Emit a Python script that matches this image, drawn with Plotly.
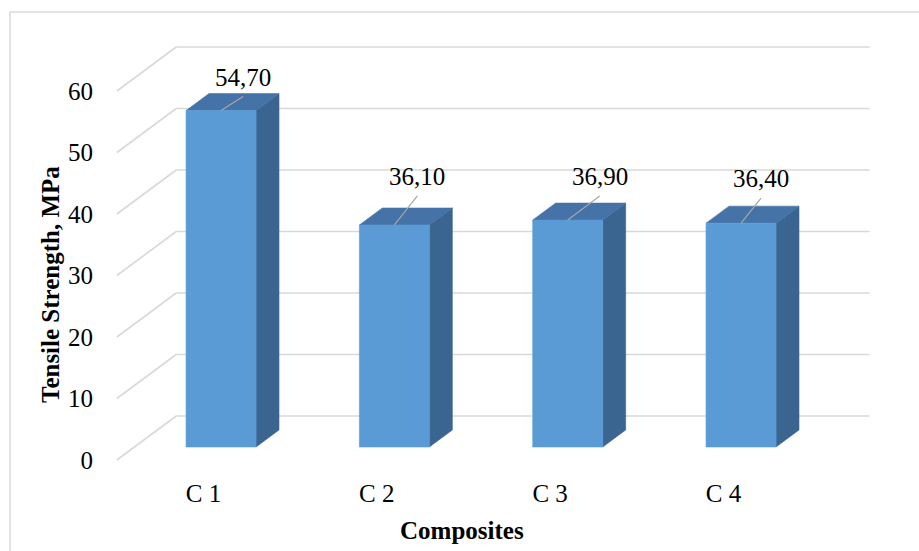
import plotly.graph_objects as go

# ---------------- data ----------------
categories = ["C 1", "C 2", "C 3", "C 4"]
values = [54.70, 36.10, 36.90, 36.40]
y_ticks = [0, 10, 20, 30, 40, 50, 60]

# ---------------- geometry / style ----------------
W, H = 919, 551
PX_CAT = 173.33          # px per category step
PX_VAL = 6.15            # px per value unit
SLANT = 1.35             # x px per depth px (oblique projection)
Z_BAR_FRONT, Z_BAR_BACK, Z_WALL = 13, 30, 44
BAR_HALF = 35 / PX_CAT
L, R, T, B = 100, 900, 20, 470
X0_PX, Y0_PX = 203.5, 460  # pixel of category 0 / value 0 on the front plane

FRONT = "#5B9BD5"
TOP = "#4573A7"
SIDE = "#3A6590"
GRID = "#D9D9D9"
FONT = "Liberation Serif"

# leader-line end offsets (px) from bar top-front centre
label_offsets = [(22, -14), (23, -29), (32, -24), (20, -25)]


def proj(x, v, z):
    """oblique projection of (category x, value v, depth z px) into front-plane axis units"""
    return x + z * SLANT / PX_CAT, v + z / PX_VAL


def poly(pts):
    xs, ys = [], []
    for p in pts:
        px, py = proj(*p)
        xs.append(px)
        ys.append(py)
    xs.append(xs[0])
    ys.append(ys[0])
    return xs, ys


fig = go.Figure()

# gridlines on back wall + side wall
gx, gy = [], []
n = len(categories)
for v in y_ticks:
    for a, b in [((-0.5, v, Z_WALL), (n - 0.5, v, Z_WALL)), ((-0.5, v, Z_WALL), (-0.5, v, 0))]:
        p1, p2 = proj(*a), proj(*b)
        gx += [p1[0], p2[0], None]
        gy += [p1[1], p2[1], None]
fig.add_trace(go.Scatter(x=gx, y=gy, mode="lines", line=dict(color=GRID, width=1.6),
                         hoverinfo="skip", showlegend=False))

# bars
for i, val in enumerate(values):
    xl, xr = i - BAR_HALF, i + BAR_HALF
    side = poly([(xr, 0, Z_BAR_FRONT), (xr, val, Z_BAR_FRONT), (xr, val, Z_BAR_BACK), (xr, 0, Z_BAR_BACK)])
    top = poly([(xl, val, Z_BAR_FRONT), (xr, val, Z_BAR_FRONT), (xr, val, Z_BAR_BACK), (xl, val, Z_BAR_BACK)])
    front = poly([(xl, 0, Z_BAR_FRONT), (xr, 0, Z_BAR_FRONT), (xr, val, Z_BAR_FRONT), (xl, val, Z_BAR_FRONT)])
    for (xs, ys), col in [(side, SIDE), (top, TOP), (front, FRONT)]:
        fig.add_trace(go.Scatter(x=xs, y=ys, mode="lines", fill="toself", fillcolor=col,
                                 line=dict(color=col, width=0.6), hoverinfo="skip", showlegend=False))

# data labels with leader lines
annotations = []
lx, ly = [], []
for i, val in enumerate(values):
    sx, sy = proj(i, val, Z_BAR_FRONT)
    dx, dy = label_offsets[i]
    ex, ey = sx + dx / PX_CAT, sy - dy / PX_VAL
    lx += [sx, ex, None]
    ly += [sy, ey, None]
    annotations.append(dict(x=ex, y=ey, xref="x", yref="y", text=f"{val:.2f}".replace(".", ","),
                            showarrow=False, xanchor="center", yanchor="bottom", yshift=4,
                            font=dict(family=FONT, size=25, color="#000000")))
fig.add_trace(go.Scatter(x=lx, y=ly, mode="lines", line=dict(color="#A6A6A6", width=1.2),
                         hoverinfo="skip", showlegend=False))

pw, ph = R - L, B - T
# axis titles
annotations.append(dict(x=(462 - L) / pw, y=(B - 530) / ph, xref="paper", yref="paper",
                        text="<b>Composites</b>", showarrow=False, xanchor="center", yanchor="middle",
                        font=dict(family=FONT, size=25, color="#000000")))
annotations.append(dict(x=(50 - L) / pw, y=(B - 285) / ph, xref="paper", yref="paper",
                        text="<b>Tensile Strength, MPa</b>", showarrow=False, textangle=-90,
                        xanchor="center", yanchor="middle",
                        font=dict(family=FONT, size=25, color="#000000")))

fig.update_layout(
    width=W, height=H,
    margin=dict(l=L, r=W - R, t=T, b=H - B, pad=0),
    paper_bgcolor="white", plot_bgcolor="white",
    annotations=annotations,
    shapes=[dict(type="rect", xref="paper", yref="paper",
                 x0=(10 - L) / pw, x1=(930 - L) / pw, y0=(B - 570) / ph, y1=(B - 12) / ph,
                 line=dict(color=GRID, width=1.5), fillcolor="rgba(0,0,0,0)", layer="below")],
    xaxis=dict(range=[(L - X0_PX) / PX_CAT, (R - X0_PX) / PX_CAT], tickvals=list(range(n)),
               ticktext=categories, showgrid=False, zeroline=False, showline=False, ticks="",
               ticklabelstandoff=6, tickfont=dict(family=FONT, size=25, color="#000000")),
    yaxis=dict(range=[(Y0_PX - B) / PX_VAL, (Y0_PX - T) / PX_VAL], tickvals=y_ticks,
               showgrid=False, zeroline=False, showline=False, ticks="",
               ticklabelstandoff=6, tickfont=dict(family=FONT, size=25, color="#000000")),
)

fig.write_html("out.html")
